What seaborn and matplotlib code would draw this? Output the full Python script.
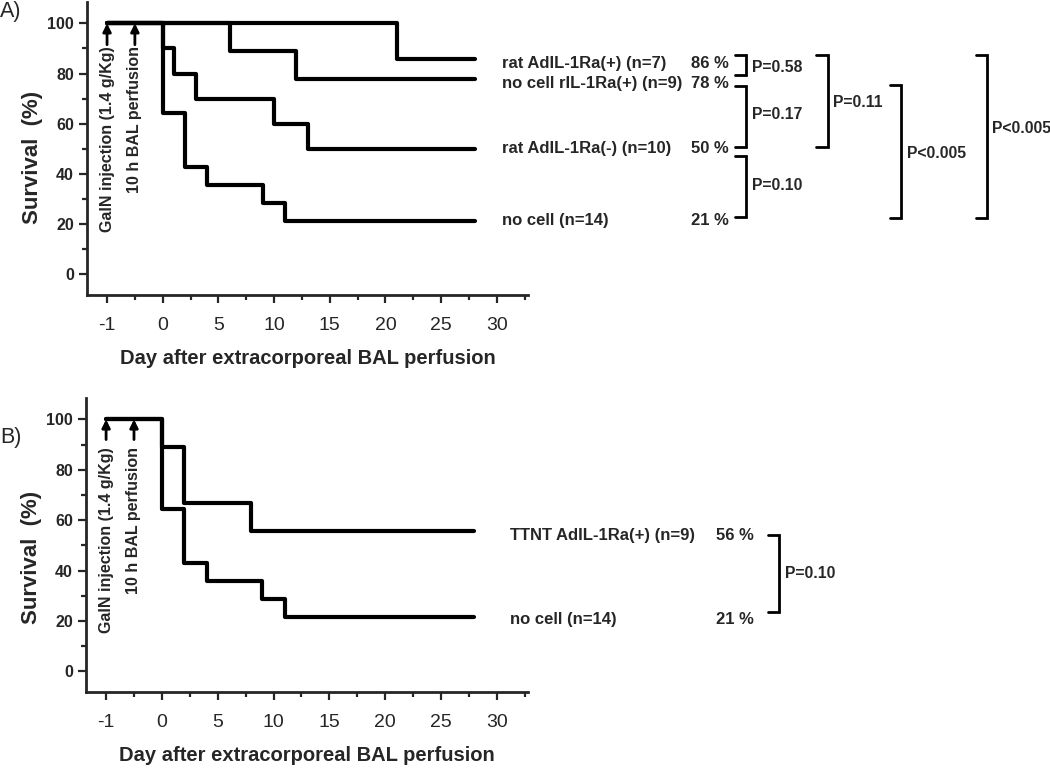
import matplotlib
matplotlib.use("Agg")
import matplotlib.pyplot as plt
import seaborn as sns
import pandas as pd
import numpy as np

sns.set_style("ticks")
plt.rcParams['font.family'] = ['Liberation Sans', 'DejaVu Sans']

# ---------------- data ----------------
# x positions on the plotted axis: day "-1" (GalN injection) is drawn at position -5
START = -5
BAL_POS = -2.5
END = 28

# Panel A series (step times, survival %)
a_names = ["rat AdIL-1Ra(+) (n=7)", "no cell rIL-1Ra(+) (n=9)",
           "rat AdIL-1Ra(-) (n=10)", "no cell (n=14)"]
a_times = [[START, 21, END],
           [START, 6, 12, END],
           [START, 0, 1, 3, 10, 13, END],
           [START, 0, 2, 4, 9, 11, END]]
a_surv = [[100, 85.7, 85.7],
          [100, 88.9, 77.8, 77.8],
          [100, 90, 80, 70, 60, 50, 50],
          [100, 64.3, 42.9, 35.7, 28.6, 21.4, 21.4]]
a_pct = ["86 %", "78 %", "50 %", "21 %"]
a_label_y = [84.1, 76.2, 50.0, 21.4]

# Panel B series
b_names = ["TTNT AdIL-1Ra(+) (n=9)", "no cell (n=14)"]
b_times = [[START, 0, 2, 8, END],
           [START, 0, 2, 4, 9, 11, END]]
b_surv = [[100, 88.9, 66.7, 55.6, 55.6],
          [100, 64.3, 42.9, 35.7, 28.6, 21.4, 21.4]]
b_pct = ["56 %", "21 %"]
b_label_y = [54.0, 20.5]

# brackets: (y_top, y_bottom, x_vertical, text, text_y)
a_brackets = [(87.3, 79.4, 52.4, "P=0.58", 82.5),
              (75.0, 50.8, 52.4, "P=0.17", 63.5),
              (47.2, 23.0, 52.4, "P=0.10", 35.3),
              (87.3, 50.8, 59.7, "P=0.11", 68.3),
              (75.4, 22.6, 66.3, "P<0.005", 48.0),
              (87.3, 22.6, 74.0, "P<0.005", 58.3)]
b_brackets = [(54.3, 23.6, 55.3, "P=0.10", 39.0)]

x_tick_pos = [-5, 0, 5, 10, 15, 20, 25, 30]
x_tick_lab = ["-1", "0", "5", "10", "15", "20", "25", "30"]
y_ticks = [0, 20, 40, 60, 80, 100]

# ---------------- figure ----------------
W, H = 1050, 769
fig = plt.figure(figsize=(W / 100, H / 100), dpi=100)

def make_df(names, times, surv):
    rows = []
    for n, t, s in zip(names, times, surv):
        for ti, si in zip(t, s):
            rows.append({"group": n, "day": ti, "survival": si})
    return pd.DataFrame(rows)

def draw_panel(ax, names, times, surv, pcts, label_y, label_x, pct_x, brackets,
               arrow_tail, text_top, ylabel_y):
    df = make_df(names, times, surv)
    sns.lineplot(data=df, x="day", y="survival", hue="group", units="group",
                 estimator=None, palette=["black"] * len(names), drawstyle="steps-post",
                 linewidth=3.0, legend=False, ax=ax, sort=False)
    ax.set_xlim(-6.8, 32.8)
    ax.set_ylim(-8.2, 108.5)
    sns.despine(ax=ax)
    for sp in ["left", "bottom"]:
        ax.spines[sp].set_linewidth(2.0)
    ax.set_xticks(x_tick_pos)
    ax.set_xticklabels(x_tick_lab, fontsize=14)
    ax.set_xticks(np.arange(-2.5, 33, 5), minor=True)
    ax.set_yticks(y_ticks)
    ax.set_yticklabels([str(v) for v in y_ticks], fontsize=11.5, fontweight="bold")
    ax.set_yticks(np.arange(10, 101, 20), minor=True)
    ax.tick_params(which="major", length=5.5, width=1.6, direction="out")
    ax.tick_params(which="minor", length=3.5, width=1.6, direction="out")
    ax.tick_params(axis="x", which="major", pad=10)
    ax.tick_params(axis="y", which="major", pad=4)
    ax.set_xlabel("Day after extracorporeal BAL perfusion", fontsize=14.5,
                  fontweight="bold", labelpad=11)
    ax.set_ylabel("Survival  (%)", fontsize=16, fontweight="bold")
    ax.yaxis.set_label_coords(-0.100, ylabel_y)
    # arrows and rotated annotations
    for xpos, txt in [(START, "GalN injection (1.4 g/Kg)"), (BAL_POS, "10 h BAL perfusion")]:
        ax.annotate("", xy=(xpos, 100), xytext=(xpos, arrow_tail),
                    arrowprops=dict(arrowstyle="-|>", color="black", lw=2.0,
                                    mutation_scale=12, shrinkA=0, shrinkB=0))
        ax.text(xpos, text_top, txt, rotation=90, ha="center", va="top",
                fontsize=11.5, fontweight="bold")
    # right-hand labels
    for n, p, y in zip(names, pcts, label_y):
        ax.text(label_x, y, n, ha="left", va="center", fontsize=12,
                fontweight="bold", clip_on=False)
        ax.text(pct_x, y, p, ha="left", va="center", fontsize=12,
                fontweight="bold", clip_on=False)
    # brackets
    for yt, yb, xv, txt, ty in brackets:
        ax.plot([xv - 1.0, xv, xv, xv - 1.0], [yt, yt, yb, yb], color="black",
                lw=2.0, clip_on=False, solid_joinstyle="miter")
        ax.text(xv + 0.5, ty, txt, ha="left", va="center", fontsize=11.3,
                fontweight="bold", clip_on=False)

axA = fig.add_axes([87 / W, 1 - 295 / H, (528 - 87) / W, (295 - 2) / H])
draw_panel(axA, a_names, a_times, a_surv, a_pct, a_label_y, 30.5, 47.4, a_brackets,
           91.5, 91.0, 0.471)

axB = fig.add_axes([86 / W, 1 - 692 / H, (528 - 86) / W, (692 - 398) / H])
draw_panel(axB, b_names, b_times, b_surv, b_pct, b_label_y, 31.2, 49.6, b_brackets,
           92.0, 89.0, 0.459)

fig.text(0 / W, 1 - 11 / H, "A)", fontsize=15.5, ha="left", va="center")
fig.text(0 / W, 1 - 438 / H, "B)", fontsize=15.5, ha="left", va="center")

fig.savefig("out.png", dpi=100)
